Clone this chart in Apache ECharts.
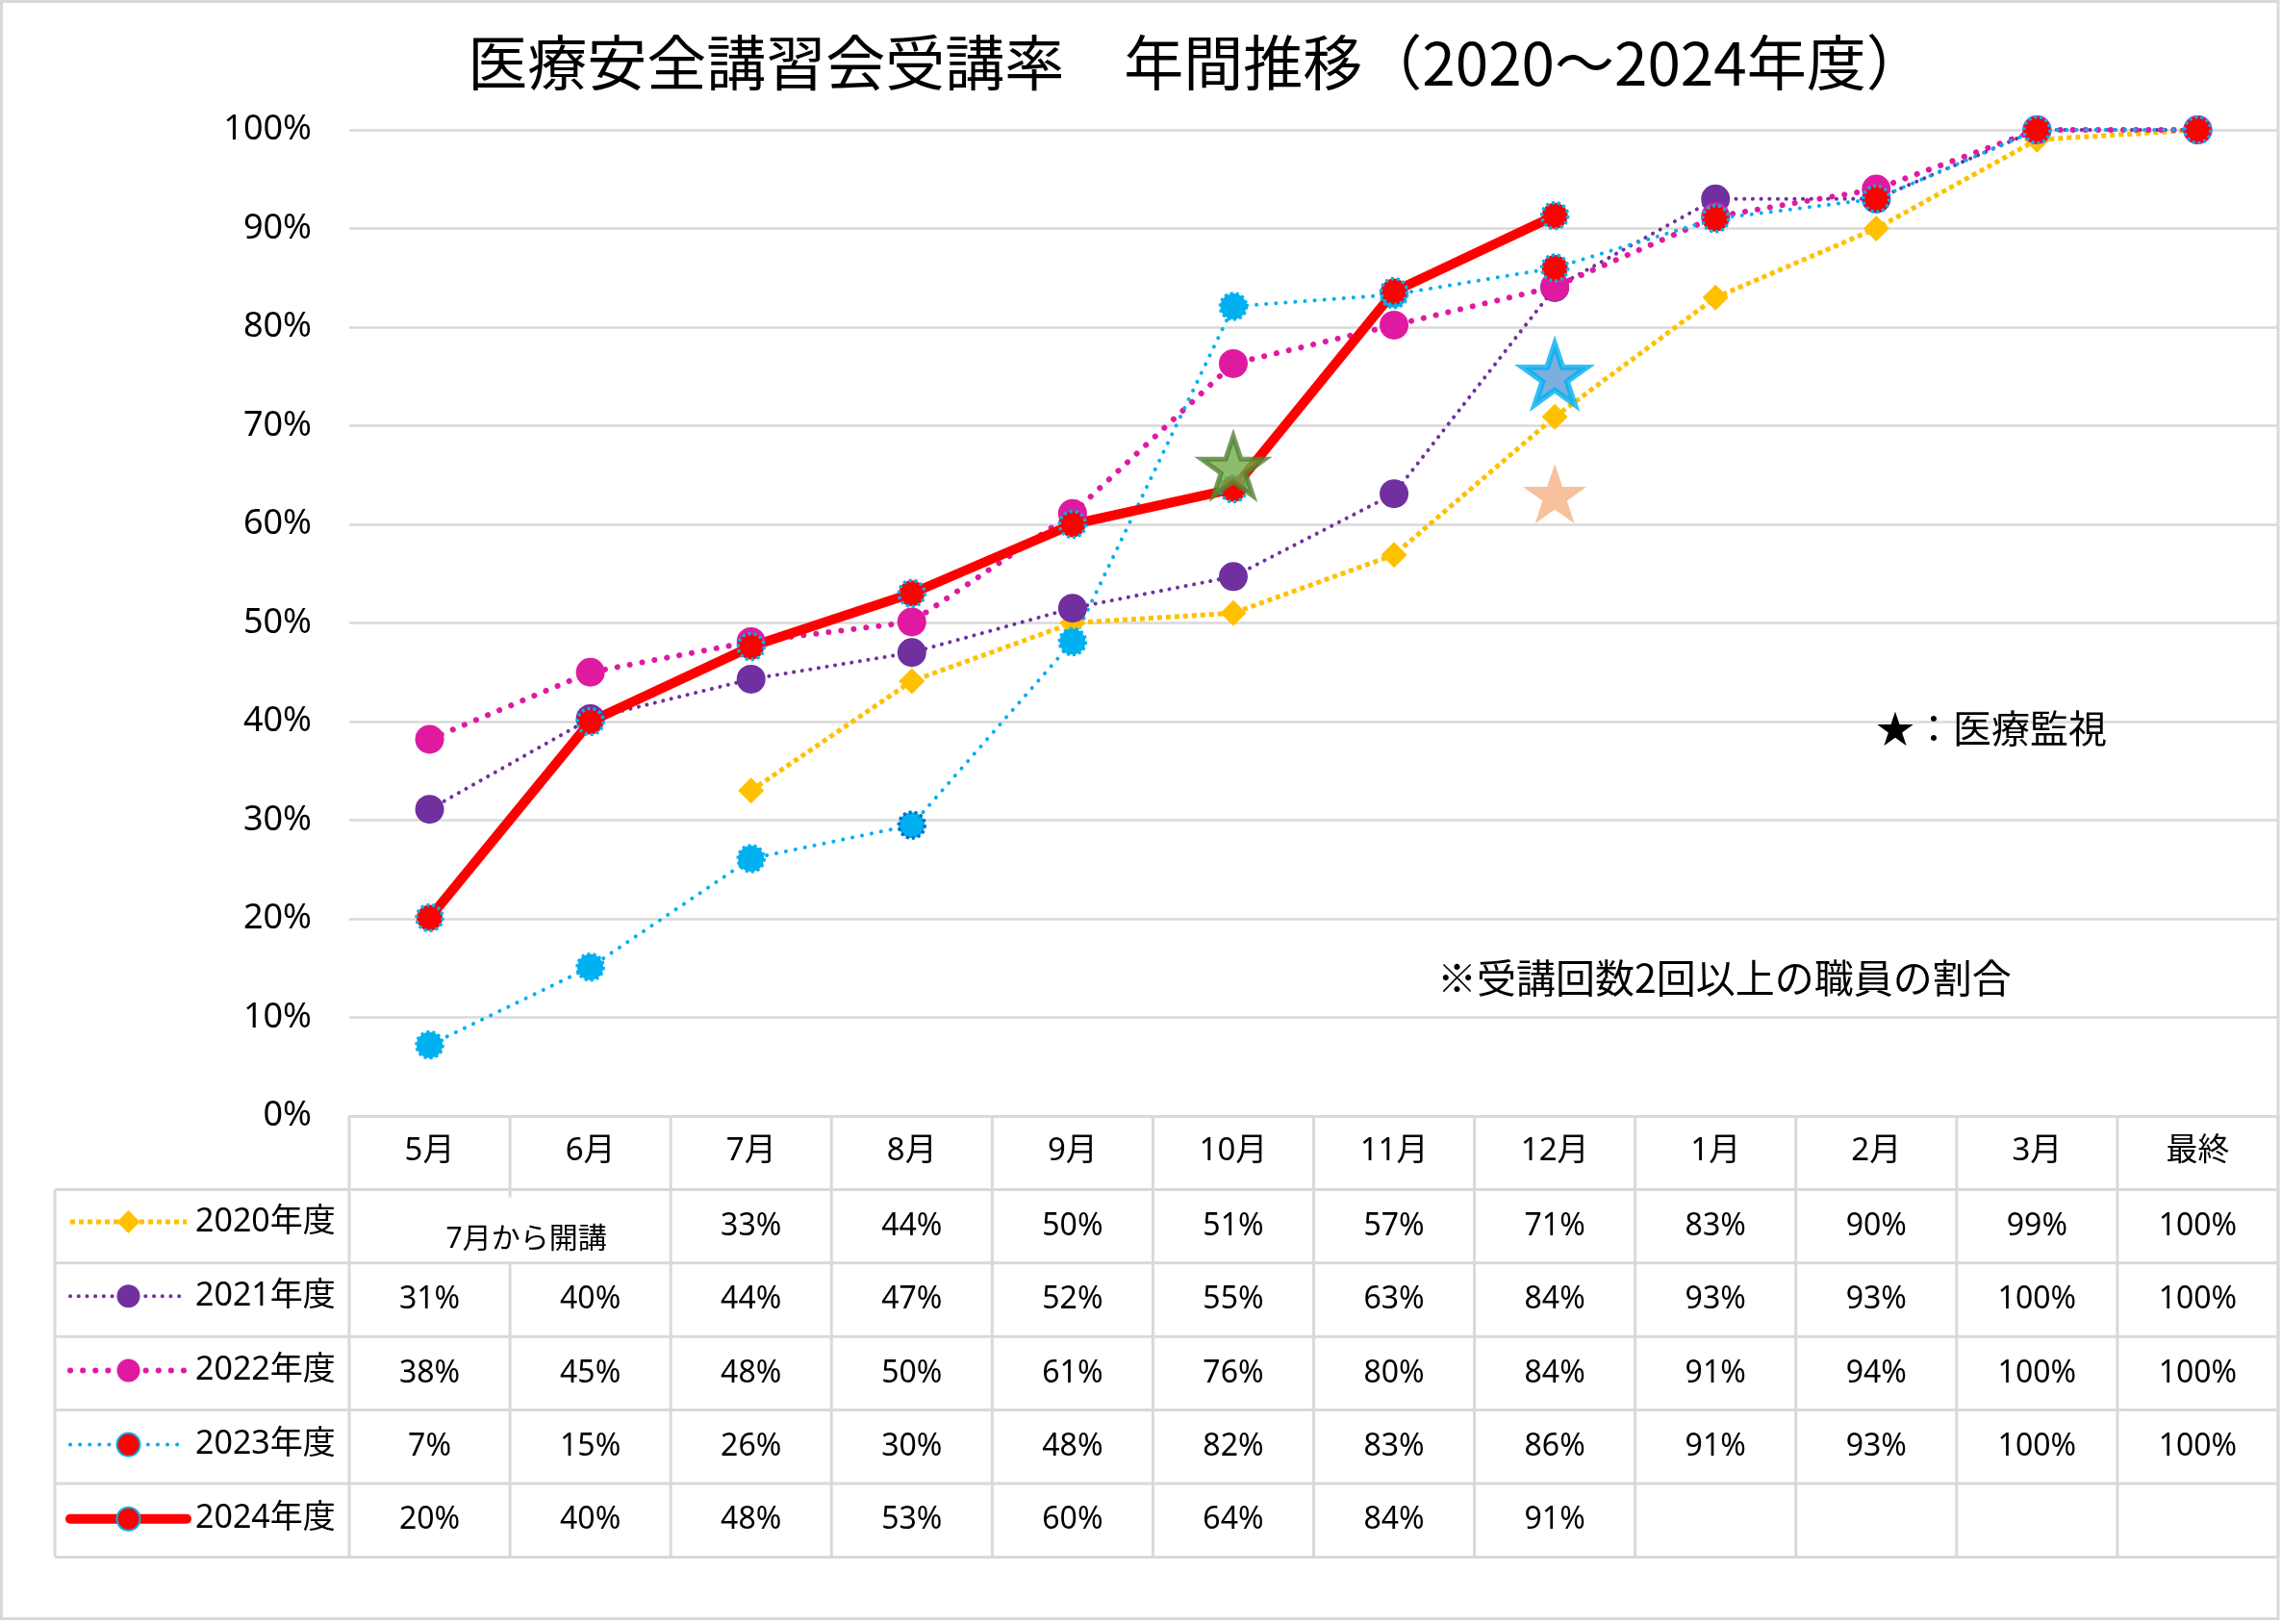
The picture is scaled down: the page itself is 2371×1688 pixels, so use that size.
<!DOCTYPE html>
<html>
<head>
<meta charset="utf-8">
<script src="https://cdn.jsdelivr.net/npm/echarts@6/dist/echarts.min.js"></script>
<style>
html,body{margin:0;padding:0;background:#fff;}
#chart{width:2371px;height:1688px;}
</style>
</head>
<body>
<div id="chart"></div>
<script>
// ---------- data ----------
const months = ['5月','6月','7月','8月','9月','10月','11月','12月','1月','2月','3月','最終'];
const seriesNames = ['2020年度','2021年度','2022年度','2023年度','2024年度'];
const v2020 = [null, null, 33, 44.1, 50, 51, 56.9, 70.9, 83, 90, 99, 100];
const v2021 = [31.1, 40.3, 44.3, 47, 51.5, 54.7, 63.1, 84, 93, 93, 100, 100];
const v2022 = [38.2, 45, 48.1, 50.1, 61.1, 76.3, 80.2, 84.1, 91.2, 94, 100, 100];
const v2023 = [7.2, 15.1, 26.1, 29.5, 48.1, 82.1, 83.3, 86, 91, 93, 100, 100];
const v2024 = [20.1, 40, 47.6, 53, 60, 63.6, 83.6, 91.3];
const yTicks = { min: 0, max: 100, interval: 10 };
const starMonths = ['10月', '12月', '12月'];
const starValues = [65.9, 75.2, 63.1];
const titleText = '医療安全講習会受講率　年間推移（2020～2024年度）';
const noteStar = '★：医療監視';
const noteCount = '※受講回数2回以上の職員の割合';
const note2020 = '7月から開講';

// ---------- styles ----------
const FONT = "'Noto Sans', 'Noto Sans CJK JP', sans-serif";
const GRIDC = '#D9D9D9';
const starPath = 'path://M50,0 L61.8,35.1 L98.9,35.1 L68.9,56.8 L80.3,91.9 L50,70.2 L19.7,91.9 L31.1,56.8 L1.1,35.1 L38.2,35.1 Z';
const starStyles = [
  { color: '#70AD47', borderColor: '#548235', borderWidth: 5 },
  { color: '#5B9BD5', borderColor: '#00B0F0', borderWidth: 6 },
  { color: '#F4B183', borderColor: '#F4B183', borderWidth: 0 }
];
const lineWidths = [5, 4, 6, 4, 10];
const blueUntil = 7; // 2023: first points drawn with blue markers

const allValues = [v2020, v2021, v2022, v2023, v2024];

const chart = echarts.init(document.getElementById('chart'), null, { renderer: 'canvas' });

const option = {
  animation: false,
  backgroundColor: '#fff',
  textStyle: { fontFamily: FONT },
  grid: { left: 363, right: 3, top: 135, bottom: 528, containLabel: false },
  legend: {
    orient: 'vertical',
    left: 63,
    top: 1247,
    itemWidth: 121,
    itemHeight: 30,
    itemGap: 41.2,
    selectedMode: false,
    data: seriesNames.map((n, i) => ({ name: n, lineStyle: { width: lineWidths[i] } })),
    textStyle: { fontSize: 34, lineHeight: 30, color: '#000', fontFamily: FONT, padding: [6, 0, 0, 4] }
  },
  xAxis: {
    type: 'category',
    data: months,
    boundaryGap: true,
    axisLine: { show: true, lineStyle: { color: GRIDC, width: 3 } },
    axisTick: { show: false },
    axisLabel: { fontSize: 33, color: '#000', margin: 20, fontFamily: FONT },
    splitLine: { show: false }
  },
  yAxis: {
    type: 'value',
    min: yTicks.min, max: yTicks.max, interval: yTicks.interval,
    axisLine: { show: false },
    axisTick: { show: false },
    axisLabel: { fontSize: 36, color: '#000', margin: 39, formatter: '{value}%', fontFamily: FONT },
    splitLine: { lineStyle: { color: GRIDC, width: 2.5 } }
  },
  series: [
    {
      name: seriesNames[0], type: 'line', data: v2020,
      symbol: 'diamond', symbolSize: 27,
      itemStyle: { color: '#FFC000' },
      lineStyle: { color: '#FFC000', width: lineWidths[0], type: [5, 4], cap: 'butt' }
    },
    {
      name: seriesNames[1], type: 'line', data: v2021,
      symbol: 'circle', symbolSize: 30,
      itemStyle: { color: '#7030A0' },
      lineStyle: { color: '#7030A0', width: lineWidths[1], type: [0.1, 8.6], cap: 'round' }
    },
    {
      name: seriesNames[2], type: 'line', data: v2022,
      symbol: 'circle', symbolSize: 30,
      itemStyle: { color: '#E01AA0' },
      lineStyle: { color: '#E01AA0', width: lineWidths[2], type: [0.1, 13], cap: 'round' }
    },
    {
      name: seriesNames[3], type: 'line',
      data: v2023.map((v, i) => i < blueUntil
        ? { value: v, itemStyle: { color: '#00B0F0', borderColor: i === 3 ? '#0070C0' : '#00B0F0' } }
        : v),
      symbol: 'circle', symbolSize: 27,
      itemStyle: { color: '#FF0000', borderColor: '#00B0F0', borderWidth: 3.5, borderType: [3, 3] },
      lineStyle: { color: '#00B0F0', width: lineWidths[3], type: [0.1, 10], cap: 'round' }
    },
    {
      name: seriesNames[4], type: 'line', data: v2024,
      symbol: 'circle', symbolSize: 27,
      itemStyle: { color: '#FF0000', borderColor: '#00B0F0', borderWidth: 3.5, borderType: [3, 3] },
      lineStyle: { color: '#FF0000', width: lineWidths[4], cap: 'round', join: 'round' }
    },
    {
      name: 'stars', type: 'scatter',
      symbol: starPath, symbolSize: [66, 62],
      data: starMonths.map((m, i) => ({ value: [m, starValues[i]], itemStyle: starStyles[i] })),
      z: 5
    }
  ]
};

chart.setOption(option);

// ---------- data table below the plot ----------
const cx = months.map(m => chart.convertToPixel({ xAxisIndex: 0 }, m));
const bandW = cx[1] - cx[0];
const colEdge = i => cx[0] - bandW / 2 + i * bandW;
const yTop = chart.convertToPixel({ yAxisIndex: 0 }, 0);
const rowH = 76.4;
const legendLeft = 57;
const rightEnd = Math.min(colEdge(months.length), 2368);
const lineStyle = { stroke: GRIDC, lineWidth: 3 };
const g = [];

// title
g.push({ type: 'text', z: 3, style: { text: titleText, x: 1244, y: 65, align: 'center', verticalAlign: 'middle', font: "62px 'Noto Sans CJK JP', sans-serif", fill: '#000' } });

// outer chart frame
g.push({ type: 'rect', shape: { x: 1.5, y: 1.5, width: 2366.5, height: 1681 }, style: { fill: null, stroke: GRIDC, lineWidth: 3 }, z: 0 });

// horizontal table lines
for (let r = 1; r <= seriesNames.length + 1; r++) {
  g.push({ type: 'line', shape: { x1: legendLeft, y1: yTop + r * rowH, x2: rightEnd, y2: yTop + r * rowH }, style: lineStyle, z: 1 });
}
// vertical table lines
for (let i = 0; i <= months.length; i++) {
  const x = Math.min(colEdge(i), rightEnd);
  g.push({ type: 'line', shape: { x1: x, y1: yTop, x2: x, y2: yTop + (seriesNames.length + 1) * rowH }, style: lineStyle, z: 1 });
}
g.push({ type: 'line', shape: { x1: legendLeft, y1: yTop + rowH, x2: legendLeft, y2: yTop + (seriesNames.length + 1) * rowH }, style: lineStyle, z: 1 });

// values
allValues.forEach((arr, s) => {
  arr.forEach((v, i) => {
    if (v === null || v === undefined) return;
    g.push({
      type: 'text', z: 3,
      style: {
        text: Math.round(v) + '%', x: cx[i], y: yTop + rowH * (1.5 + s),
        align: 'center', verticalAlign: 'middle',
        font: "32px 'Noto Sans', 'Noto Sans CJK JP', sans-serif", fill: '#000'
      }
    });
  });
});

// 2020 merged "7月から開講" cell
g.push({ type: 'rect', z: 2, shape: { x: colEdge(0) + 30, y: yTop + rowH + 8, width: 289, height: rowH - 10 }, style: { fill: '#fff', stroke: null } });
g.push({
  type: 'text', z: 3,
  style: {
    text: note2020, x: colEdge(1) + 17, y: yTop + rowH * 1.5 + 14,
    align: 'center', verticalAlign: 'middle',
    font: "30px 'Noto Sans', 'Noto Sans CJK JP', sans-serif", fill: '#000'
  }
});

// annotations
g.push({ type: 'text', z: 3, style: { text: noteStar, x: 1950, y: 757, align: 'left', verticalAlign: 'middle', font: "40px 'Noto Sans CJK JP', sans-serif", fill: '#000' } });
g.push({ type: 'text', z: 3, style: { text: noteCount, x: 1494, y: 1016, align: 'left', verticalAlign: 'middle', font: "41px 'Noto Sans CJK JP', sans-serif", fill: '#000' } });

chart.setOption({ graphic: { elements: g } });
</script>
</body>
</html>
